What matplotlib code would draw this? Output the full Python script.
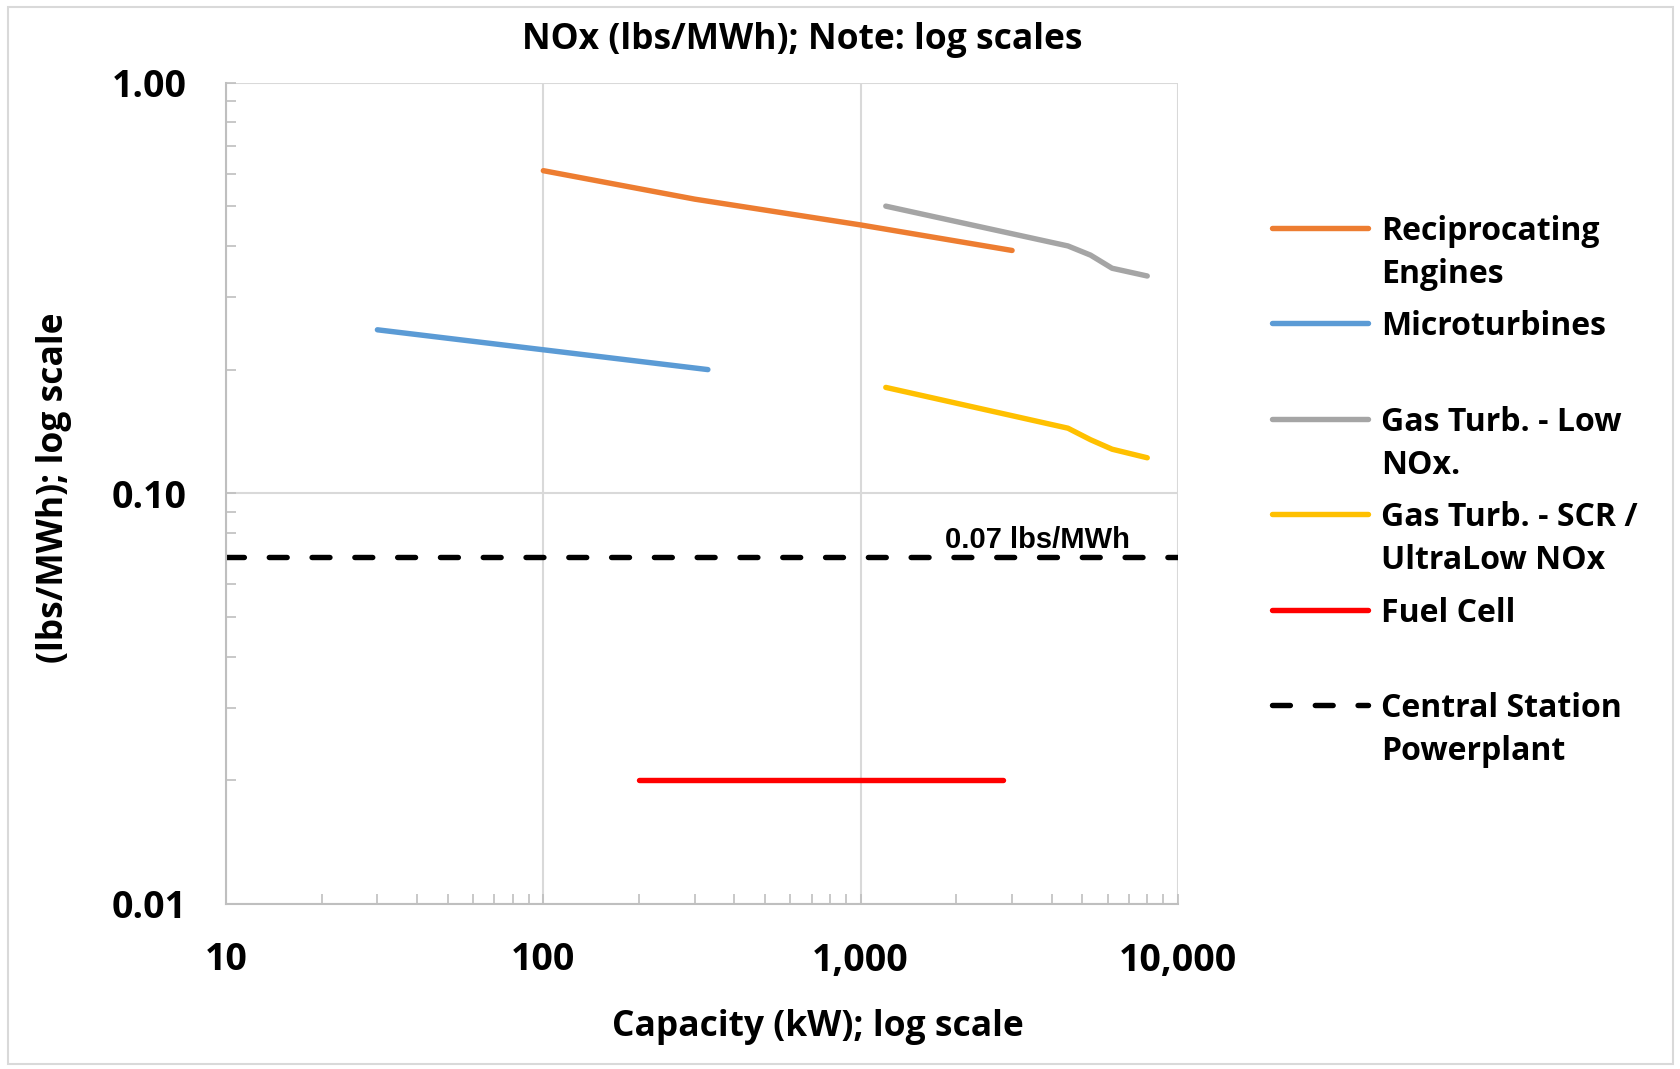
import matplotlib
matplotlib.use("Agg")
import matplotlib.pyplot as plt
from matplotlib.lines import Line2D
from matplotlib.patches import Rectangle
from matplotlib.ticker import FixedLocator, LogLocator, NullFormatter

# data (capacity kW, NOx lbs/MWh)
recip_kw = [100, 300, 1000, 3000]
recip_nox = [0.61, 0.52, 0.45, 0.39]

micro_kw = [30, 330]
micro_nox = [0.25, 0.20]

gt_low_kw = [1200, 4500, 5300, 6200, 8000]
gt_low_nox = [0.50, 0.40, 0.38, 0.353, 0.338]

gt_scr_kw = [1200, 4500, 5300, 6200, 8000]
gt_scr_nox = [0.181, 0.144, 0.135, 0.128, 0.122]

fuel_kw = [200, 2800]
fuel_nox = [0.02, 0.02]

central_kw = [10, 10000]
central_nox = [0.07, 0.07]

x_ticks = [10, 100, 1000, 10000]
x_labels = ["10", "100", "1,000", "10,000"]
y_ticks = [0.01, 0.1, 1.0]
y_labels = ["0.01", "0.10", "1.00"]

series = [
    ("Reciprocating\nEngines", recip_kw, recip_nox, "#ED7D31", "-"),
    ("Microturbines", micro_kw, micro_nox, "#5B9BD5", "-"),
    ("Gas Turb. - Low\nNOx.", gt_low_kw, gt_low_nox, "#A5A5A5", "-"),
    ("Gas Turb. - SCR /\nUltraLow NOx", gt_scr_kw, gt_scr_nox, "#FFC000", "-"),
    ("Fuel Cell", fuel_kw, fuel_nox, "#FF0000", "-"),
    ("Central Station\nPowerplant", central_kw, central_nox, "#000000", "--"),
]

FONT = "Open Sans"
FS = 25.5        # title / axis titles
FS_TICK = 27
FS_LEG = 23
LW = 3.9
W, H = 1681, 1069

fig = plt.figure(figsize=(W / 100, H / 100), dpi=100)
ax = fig.add_axes([226 / W, 1 - 904 / H, (1178 - 226) / W, (904 - 82.5) / H])

for label, xs, ys, color, ls in series:
    if ls == "--":
        ax.plot(xs, ys, color=color, lw=LW, dashes=(3.3, 4.6),
                dash_capstyle="round")
    else:
        ax.plot(xs, ys, color=color, lw=LW, solid_capstyle="round")

ax.set_xscale("log")
ax.set_yscale("log")
ax.set_xlim(10, 10000)
ax.set_ylim(0.01, 1.0)

ax.xaxis.set_major_locator(FixedLocator(x_ticks))
ax.set_xticklabels(x_labels)
ax.yaxis.set_major_locator(FixedLocator(y_ticks))
ax.set_yticklabels(y_labels)
ax.xaxis.set_minor_locator(LogLocator(base=10, subs=range(2, 10)))
ax.yaxis.set_minor_locator(LogLocator(base=10, subs=range(2, 10)))
ax.xaxis.set_minor_formatter(NullFormatter())
ax.yaxis.set_minor_formatter(NullFormatter())

ax.grid(True, which="major", color="#D9D9D9", lw=1.5)
ax.set_axisbelow(True)
for side in ["top", "right"]:
    ax.spines[side].set_visible(False)
for side in ["left", "bottom"]:
    ax.spines[side].set_color("#BFBFBF")
    ax.spines[side].set_linewidth(1.5)

ax.tick_params(which="both", direction="in", color="#BFBFBF", width=1.2, length=7)
ax.tick_params(axis="y", which="major", pad=28)
ax.tick_params(axis="x", which="major", pad=27)
for lab in ax.get_xticklabels() + ax.get_yticklabels():
    lab.set_fontfamily(FONT)
    lab.set_fontweight("bold")
    lab.set_fontsize(FS_TICK)

ax.text(3600, 0.0712, "0.07 lbs/MWh", ha="center", va="bottom",
        fontfamily="Liberation Sans", fontweight="bold", fontsize=21)

fig.text(802 / W, 1 - 40 / H, "NOx (lbs/MWh); Note: log scales", ha="center", va="center",
         fontfamily=FONT, fontweight="bold", fontsize=FS)
fig.text(818 / W, 1 - 1027 / H, "Capacity (kW); log scale", ha="center", va="center",
         fontfamily=FONT, fontweight="bold", fontsize=FS)
fig.text(54 / W, 1 - 488 / H, "(lbs/MWh); log scale", ha="center", va="center",
         rotation=90, fontfamily=FONT, fontweight="bold", fontsize=FS)

# legend drawn by hand so each entry keeps its handle on the first line
top = 228 / H
step = 95.4 / H
for i, (label, xs, ys, color, ls) in enumerate(series):
    y = 1 - top - i * step
    kw = dict(color=color, lw=LW, transform=fig.transFigure)
    if ls == "--":
        kw.update(dashes=(3.3, 4.6), dash_capstyle="round")
    else:
        kw.update(solid_capstyle="round")
    fig.add_artist(Line2D([1272 / W, 1368 / W], [y, y], **kw))
    fig.text(1381 / W, y + 13 / H, label, ha="left", va="top", linespacing=1.4,
             fontfamily=FONT, fontweight="bold", fontsize=FS_LEG)

fig.add_artist(Rectangle((8 / W, 5 / H), 1 - 16 / W, 1 - 12 / H, transform=fig.transFigure,
                         fill=False, edgecolor="#D9D9D9", lw=1.5))

fig.savefig("out.png", dpi=100)
